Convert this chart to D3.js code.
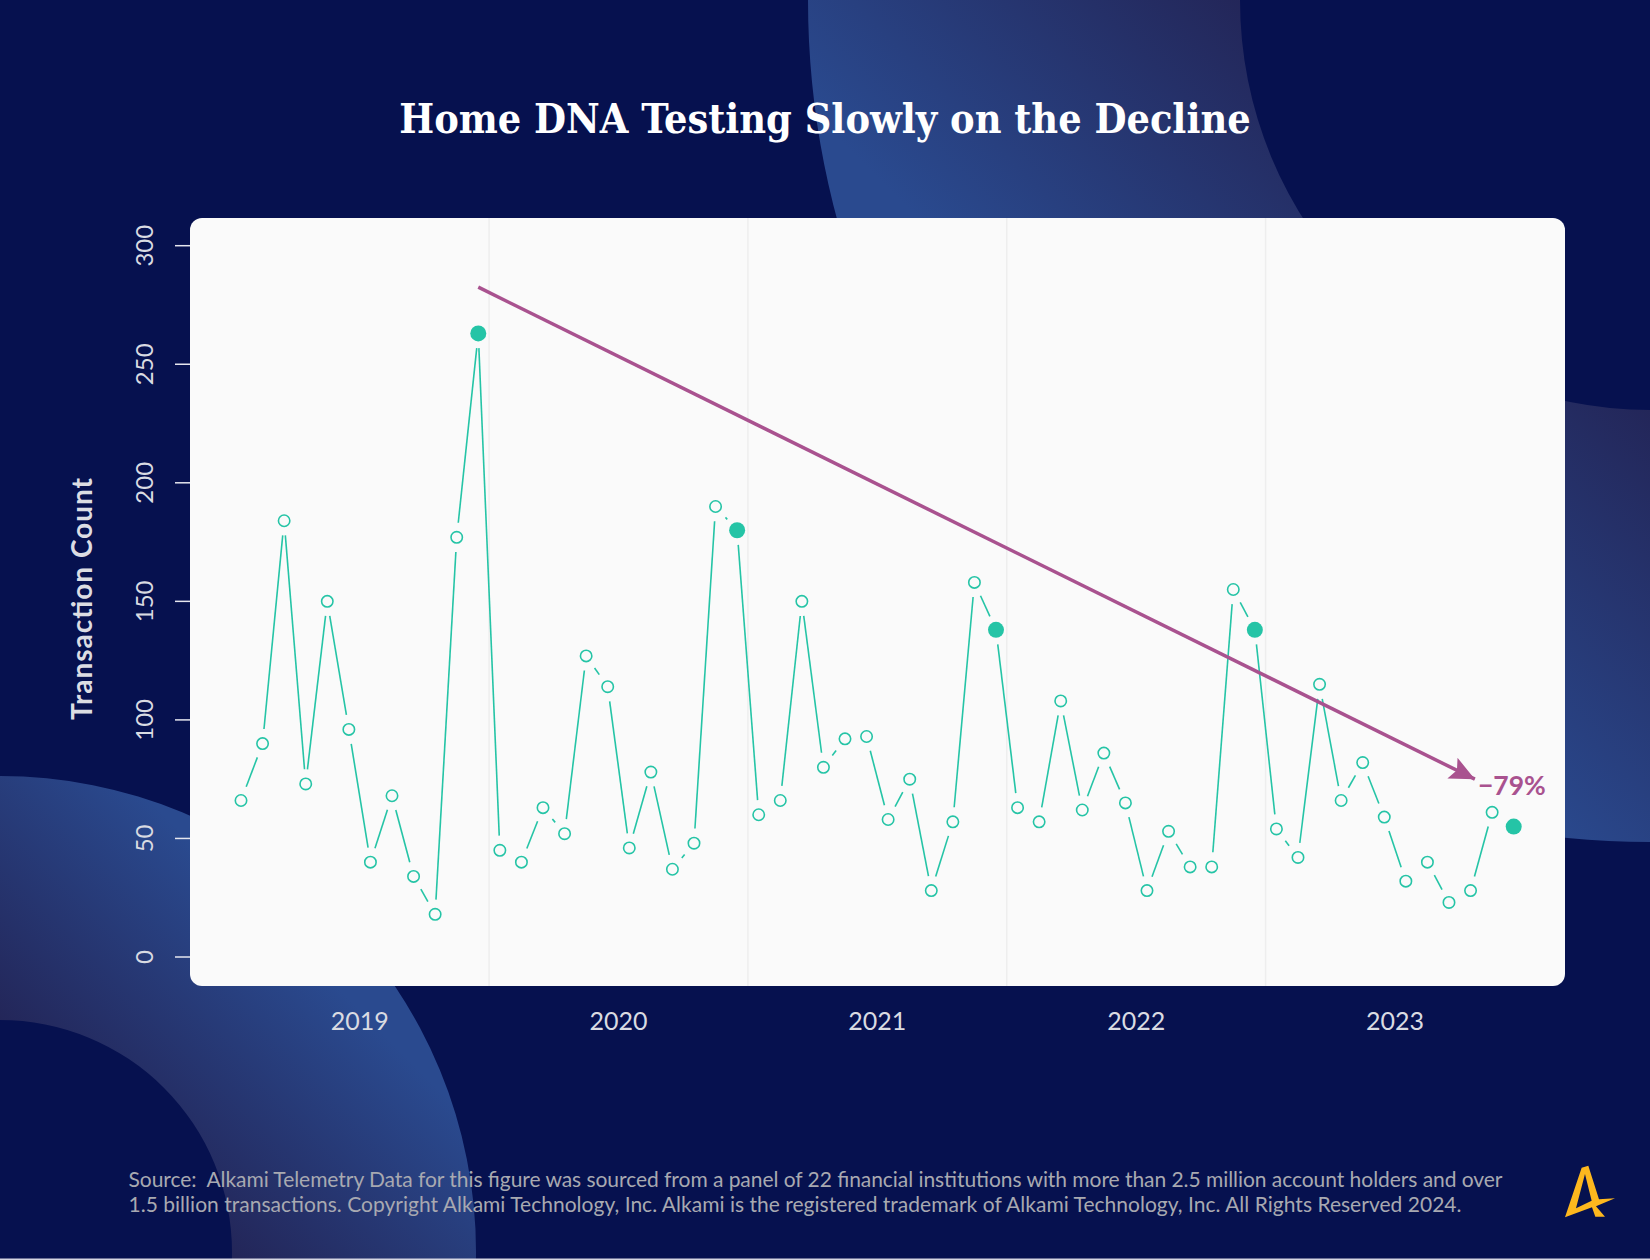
<!DOCTYPE html>
<html>
<head>
<meta charset="utf-8">
<script src="https://cdn.jsdelivr.net/npm/d3@7"></script>
<style>
  html, body { margin: 0; padding: 0; background: #06114f; }
  svg { display: block; }
  text { font-family: "Lato", "Open Sans", sans-serif; }
</style>
</head>
<body>
<div id="chart"></div>
<script>
// Data, one row per fiscal year
const years = ["2019", "2020", "2021", "2022", "2023"];
const yTicks = [0, 50, 100, 150, 200, 250, 300];
const counts = [
  66, 90, 184, 73, 150, 96, 40, 68, 34, 18, 177, 263,
  45, 40, 63, 52, 127, 114, 46, 78, 37, 48, 190, 180,
  60, 66, 150, 80, 92, 93, 58, 75, 28, 57, 158, 138,
  63, 57, 108, 62, 86, 65, 28, 53, 38, 38, 155, 138,
  54, 42, 115, 66, 82, 59, 32, 40, 23, 28, 61, 55
];
const highlighted = [11, 23, 35, 47, 59];
const trendFrom = [11, 282.5];
const trendTo = [57.2, 75];
const trendLabel = "\u221279%";
const title = "Home DNA Testing Slowly on the Decline";
const yTitle = "Transaction Count";
const sourceLines = [
  "Source:  Alkami Telemetry Data for this figure was sourced from a panel of 22 financial institutions with more than 2.5 million account holders and over",
  "1.5 billion transactions. Copyright Alkami Technology, Inc. Alkami is the registered trademark of Alkami Technology, Inc. All Rights Reserved 2024."
];
const sourceWidths = [1374, 1333];

const width = 1650;
const height = 1260;
const panel = { left: 190, right: 1565, top: 218, bottom: 986 };
const teal = "#25c4a6";
const purple = "#a9528f";
const pointGap = 14.7; // the line stops this far short of each point

const svg = d3.select("#chart").append("svg")
  .attr("width", width)
  .attr("height", height);

// Background rings, gradient coordinates are relative to each ring's centre
const defs = svg.append("defs");
function ringGradient(id, x1, y1, x2, y2) {
  const g = defs.append("linearGradient")
    .attr("id", id)
    .attr("gradientUnits", "userSpaceOnUse")
    .attr("x1", x1).attr("y1", y1)
    .attr("x2", x2).attr("y2", y2);
  g.append("stop").attr("offset", 0).attr("stop-color", "#232659");
  g.append("stop").attr("offset", 1).attr("stop-color", "#2a4a8f");
}
ringGradient("ringTop", -410, 0, -680, 270);
ringGradient("ringBottom", 230, -2, 415, -187);

svg.append("rect").attr("width", width).attr("height", height).attr("fill", "#06114f");

const ring = d3.arc().startAngle(0).endAngle(2 * Math.PI);
svg.append("path")
  .attr("transform", "translate(1650,0)")
  .attr("d", ring({ innerRadius: 410, outerRadius: 842 }))
  .attr("fill", "url(#ringTop)");
svg.append("path")
  .attr("transform", "translate(0,1252)")
  .attr("d", ring({ innerRadius: 232, outerRadius: 476 }))
  .attr("fill", "url(#ringBottom)");

svg.append("rect")
  .attr("y", height - 1.5).attr("width", width).attr("height", 1.5)
  .attr("fill", "#d5d6e2");

// Title
svg.append("text")
  .attr("x", 825).attr("y", 133)
  .attr("text-anchor", "middle")
  .attr("fill", "#ffffff")
  .style("font-family", "'DejaVu Serif Condensed', 'DejaVu Serif', serif")
  .style("font-weight", 700)
  .style("font-size", "41px")
  .text(title);

// Panel
svg.append("rect")
  .attr("x", panel.left).attr("y", panel.top)
  .attr("width", panel.right - panel.left).attr("height", panel.bottom - panel.top)
  .attr("rx", 12)
  .attr("fill", "#fafafa");

// Scales
const xScale = d3.scaleLinear().domain([0, 59]).range([241, 1513.7]);
const yScale = d3.scaleLinear().domain([0, 300]).range([957, 245.7]);
const yearScale = d3.scaleBand().domain(years).range([xScale(-0.5), xScale(59.5)]);

// Year separators
svg.append("g")
  .selectAll("line")
  .data(years.slice(1))
  .join("line")
  .attr("x1", (d) => yearScale(d)).attr("x2", (d) => yearScale(d))
  .attr("y1", panel.top).attr("y2", panel.bottom)
  .attr("stroke", "#eeeeee")
  .attr("stroke-width", 1.5);

// Axes
const yAxis = svg.append("g")
  .attr("transform", `translate(${panel.left},0)`)
  .call(d3.axisLeft(yScale).tickValues(yTicks).tickSize(15).tickPadding(0).offset(0));
yAxis.select(".domain").remove();
yAxis.selectAll("line").attr("stroke", "#e6e7ef").attr("stroke-width", 1.5);
yAxis.selectAll("text")
  .attr("x", null).attr("dy", null)
  .attr("text-anchor", "middle")
  .attr("transform", "translate(-37,0) rotate(-90)")
  .attr("fill", "#d9dbe2")
  .style("font-size", "24px");

const xAxis = svg.append("g")
  .attr("transform", `translate(0,${panel.bottom})`)
  .call(d3.axisBottom(yearScale).tickSize(0).tickPadding(0));
xAxis.select(".domain").remove();
xAxis.selectAll("text")
  .attr("y", 44).attr("dy", null)
  .attr("fill", "#d9dbe2")
  .style("font-size", "25px");

svg.append("text")
  .attr("transform", "translate(92,599) rotate(-90)")
  .attr("text-anchor", "middle")
  .attr("textLength", 242)
  .attr("fill", "#dcdde3")
  .style("font-weight", 700)
  .style("font-size", "28px")
  .text(yTitle);

// Line with gaps around the points
const points = counts.map((v, i) => ({ i, x: xScale(i), y: yScale(v) }));
const segments = d3.pairs(points).filter(([a, b]) => Math.hypot(b.x - a.x, b.y - a.y) > 2 * pointGap);
svg.append("g")
  .selectAll("line")
  .data(segments)
  .join("line")
  .each(function ([a, b]) {
    const len = Math.hypot(b.x - a.x, b.y - a.y);
    const ux = (b.x - a.x) / len;
    const uy = (b.y - a.y) / len;
    d3.select(this)
      .attr("x1", a.x + ux * pointGap).attr("y1", a.y + uy * pointGap)
      .attr("x2", b.x - ux * pointGap).attr("y2", b.y - uy * pointGap);
  })
  .attr("stroke", teal)
  .attr("stroke-width", 1.6);

// Points
svg.append("g")
  .selectAll("circle")
  .data(points)
  .join("circle")
  .attr("cx", (d) => d.x)
  .attr("cy", (d) => d.y)
  .attr("r", (d) => (highlighted.includes(d.i) ? 8 : 5.7))
  .attr("fill", (d) => (highlighted.includes(d.i) ? teal : "#fafafa"))
  .attr("stroke", teal)
  .attr("stroke-width", (d) => (highlighted.includes(d.i) ? 0 : 1.6));

// Trend arrow
defs.append("marker")
  .attr("id", "arrowHead")
  .attr("markerUnits", "userSpaceOnUse")
  .attr("viewBox", "0 -12 26 24")
  .attr("refX", 25).attr("refY", 0)
  .attr("markerWidth", 26).attr("markerHeight", 24)
  .attr("orient", "auto")
  .append("path")
  .attr("d", "M0,-11.5L25,0L0,11.5L5,0Z")
  .attr("fill", purple);

svg.append("line")
  .attr("x1", xScale(trendFrom[0])).attr("y1", yScale(trendFrom[1]))
  .attr("x2", xScale(trendTo[0])).attr("y2", yScale(trendTo[1]))
  .attr("stroke", purple)
  .attr("stroke-width", 3.5)
  .attr("marker-end", "url(#arrowHead)");

svg.append("text")
  .attr("x", 1478).attr("y", 795)
  .attr("fill", purple)
  .style("font-weight", 700)
  .style("font-size", "26.5px")
  .text(trendLabel);

// Source note
svg.append("g")
  .selectAll("text")
  .data(sourceLines)
  .join("text")
  .attr("x", 128.5)
  .attr("y", (d, i) => 1187 + i * 25)
  .attr("textLength", (d, i) => sourceWidths[i])
  .attr("fill", "#a8a9b1")
  .style("font-size", "21px")
  .style("white-space", "pre")
  .text((d) => d);

// Logo
svg.append("path")
  .attr("transform", "translate(1450,1130) scale(0.3333)")
  .attr("fill-rule", "evenodd")
  .attr("fill", "#fdb81e")
  .attr("d", "M345,262L395,113L415,107L447,208L495,205L438,229L465,260L436,260L426,232ZM378,235L425,212L405,132Z");
</script>
</body>
</html>
